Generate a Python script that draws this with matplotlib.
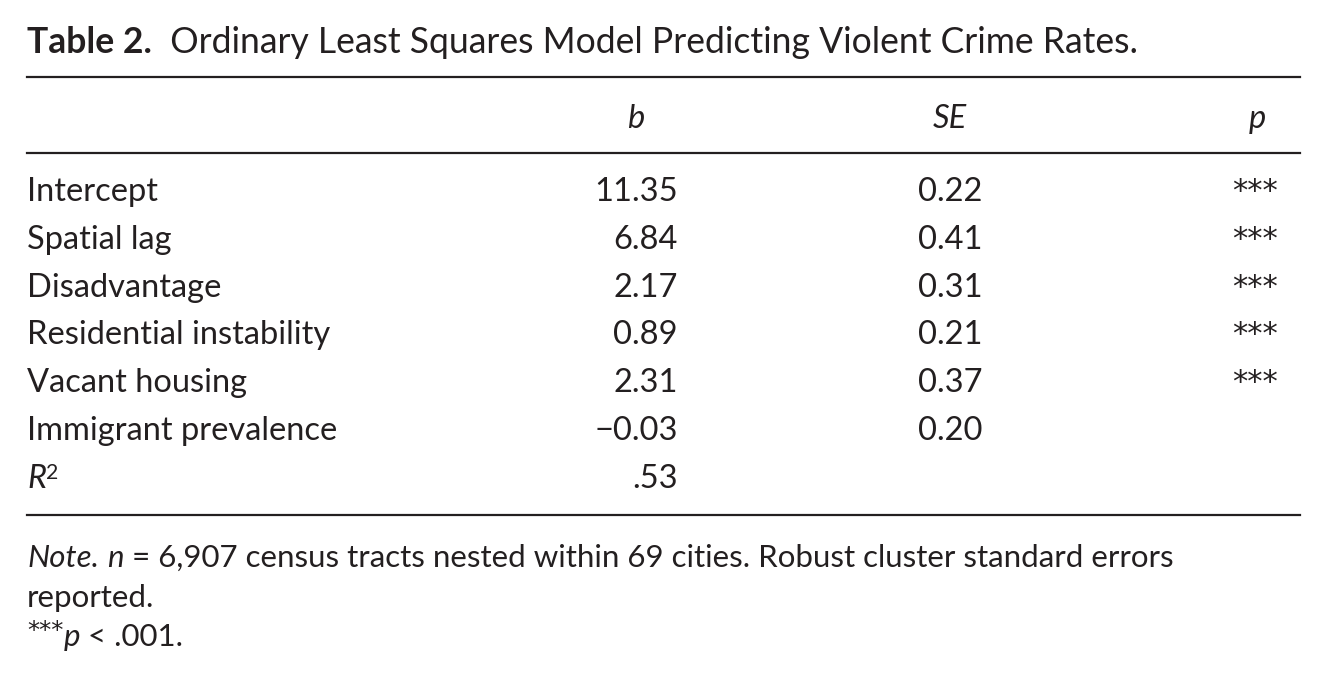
import matplotlib.pyplot as plt

# table content
row_labels = ["Intercept", "Spatial lag", "Disadvantage", "Residential instability",
              "Vacant housing", "Immigrant prevalence"]
b_vals = ["11.35", "6.84", "2.17", "0.89", "2.31", "\u22120.03"]
se_vals = ["0.22", "0.41", "0.31", "0.21", "0.37", "0.20"]
p_stars = ["***", "***", "***", "***", "***", ""]
r2_val = ".53"
col_heads = ["b", "SE", "p"]

FONT = "Lato"
STAR = "DejaVu Sans"
INK = "#231f20"
W, H = 1326, 680
BODY = 23.5

fig = plt.figure(figsize=(W / 100, H / 100), dpi=100)
ax = fig.add_axes([0, 0, 1, 1])
ax.set_xlim(0, W)
ax.set_ylim(H, 0)
ax.axis("off")
renderer = fig.canvas.get_renderer()


def run(x, y, pieces, size):
    # pieces: (text, style, weight, dy, scale, family) drawn left to right
    for txt, style, weight, dy, scale, fam in pieces:
        t = ax.text(x, y + dy, txt, fontsize=size * scale, family=fam, style=style,
                    weight=weight, color=INK, va="baseline", ha="left")
        x += t.get_window_extent(renderer).width


# title
run(27, 53, [("Table 2.", "normal", "bold", 0, 1, FONT),
             ("  Ordinary Least Squares Model Predicting Violent Crime Rates.", "normal", "normal", 0, 1, FONT)], 25.6)

# rules
for yr in [77, 153, 515]:
    ax.plot([27, 1300], [yr, yr], color=INK, lw=1.6)

# header
hx = [636, 950, 1257]
for x, h in zip(hx, col_heads):
    ax.text(x, 128, h, fontsize=BODY, family=FONT, style="italic", color=INK,
            ha="center", va="baseline")

# body rows
y0, dy = 201, 47.8
for i, lab in enumerate(row_labels):
    y = y0 + i * dy
    ax.text(27, y, lab, fontsize=BODY, family=FONT, color=INK, va="baseline")
    ax.text(678, y, b_vals[i], fontsize=BODY, family=FONT, color=INK, va="baseline", ha="right")
    ax.text(918, y, se_vals[i], fontsize=BODY, family=FONT, color=INK, va="baseline")
    ax.text(1232, y - 1, p_stars[i], fontsize=22, family=STAR, color=INK, va="baseline")

y = y0 + len(row_labels) * dy
run(27, y, [("R", "italic", "normal", 0, 1, FONT), ("2", "normal", "normal", -9, 0.65, FONT)], BODY)
ax.text(678, y, r2_val, fontsize=BODY, family=FONT, color=INK, va="baseline", ha="right")

# note
NOTE = 22.5
run(27, 567, [("Note.", "italic", "normal", 0, 1, FONT), (" ", "normal", "normal", 0, 1, FONT),
              ("n", "italic", "normal", 0, 1, FONT),
              (" = 6,907 census tracts nested within 69 cities. Robust cluster standard errors",
               "normal", "normal", 0, 1, FONT)], NOTE)
run(27, 607, [("reported.", "normal", "normal", 0, 1, FONT)], NOTE)
run(27, 646, [("***", "normal", "normal", -8, 0.78, STAR), ("p", "italic", "normal", 0, 1, FONT),
              (" < .001.", "normal", "normal", 0, 1, FONT)], NOTE)

fig.savefig("out.png", dpi=100)
